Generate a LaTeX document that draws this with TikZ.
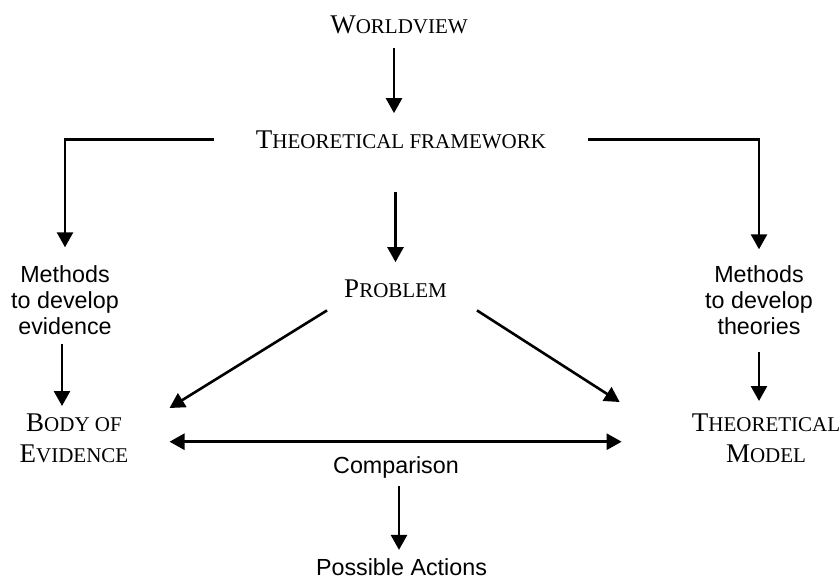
\documentclass[tikz,border=0pt]{standalone}
\usepackage{fontspec}
\setmainfont{Liberation Serif}
\setsansfont{Liberation Sans}
\usetikzlibrary{arrows.meta}
% word-processor style small capitals: full-size initial, reduced rest
\newcommand\fsc[2]{#1{\fontsize{21}{31}\selectfont #2}}
\begin{document}
\begin{tikzpicture}[x=1pt,y=-1pt,
  serif/.style={font=\fontsize{27}{31}\selectfont, inner sep=0pt, align=center},
  sans/.style={font=\sffamily\fontsize{23.3}{26}\selectfont, inner sep=0pt, align=center},
  tip/.tip={Triangle[width=16pt,length=15pt]},
  arr/.style={line width=2.6pt, -tip},
  dbl/.style={line width=2.6pt, tip-tip}]
\useasboundingbox (0,0) rectangle (840,579);

% concept labels
\node[serif, anchor=base] (wv) at (399,33) {\fsc{W}{ORLDVIEW}};
\node[serif, anchor=base] (tf) at (401,148) {\fsc{T}{HEORETICAL FRAMEWORK}};
\node[serif, anchor=base] (pb) at (395.5,297) {\fsc{P}{ROBLEM}};
\node[serif, anchor=north] (be) at (74,414) {\fsc{B}{ODY OF}\\\fsc{E}{VIDENCE}};
\node[serif, anchor=north] (tm) at (766,414) {\fsc{T}{HEORETICAL}\\\fsc{M}{ODEL}};

% method and outcome labels
\node[sans, anchor=north] (me) at (65,265.3) {Methods\\to develop\\evidence};
\node[sans, anchor=north] (mt) at (759,265.3) {Methods\\to develop\\theories};
\node[sans, anchor=base] (cmp) at (396,473) {Comparison};
\node[sans, anchor=base] (pa) at (401.5,575) {Possible Actions};

% connectors
\draw[arr, shorten <=14pt, shorten >=17pt] ([xshift=-5pt]wv.south) -- ([xshift=-5pt]wv.south |- tf.north);
\draw[arr, shorten <=42pt, shorten >=18pt] (tf.west) -| (me.north);
\draw[arr, shorten <=42pt, shorten >=16pt] (tf.east) -| (mt.north);
\draw[arr, shorten <=43pt, shorten >=17pt] (pb.north |- tf.south) -- (pb.north);
\draw[arr, shorten <=9pt, shorten >=8pt] ([xshift=-3pt]me.south) -- ([xshift=-3pt]me.south |- be.north);
\draw[arr, shorten <=17pt, shorten >=13pt] (mt.south) -- (mt.south |- tm.north);
\draw[arr] ([xshift=-17pt,yshift=-13pt]pb.south west) -- ([xshift=41pt,yshift=6pt]be.north east);
\draw[arr] ([xshift=30pt,yshift=-13pt]pb.south east) -- ([xshift=-72pt,yshift=12pt]tm.north west);
\draw[dbl, shorten <=41pt, shorten >=70pt] ([yshift=-3pt]be.east) -- ([yshift=-3pt]be.east -| tm.west);
\draw[arr, shorten <=8pt, shorten >=8pt] ([xshift=3pt]cmp.south) -- ([xshift=3pt]cmp.south |- pa.north);
\end{tikzpicture}
\end{document}
